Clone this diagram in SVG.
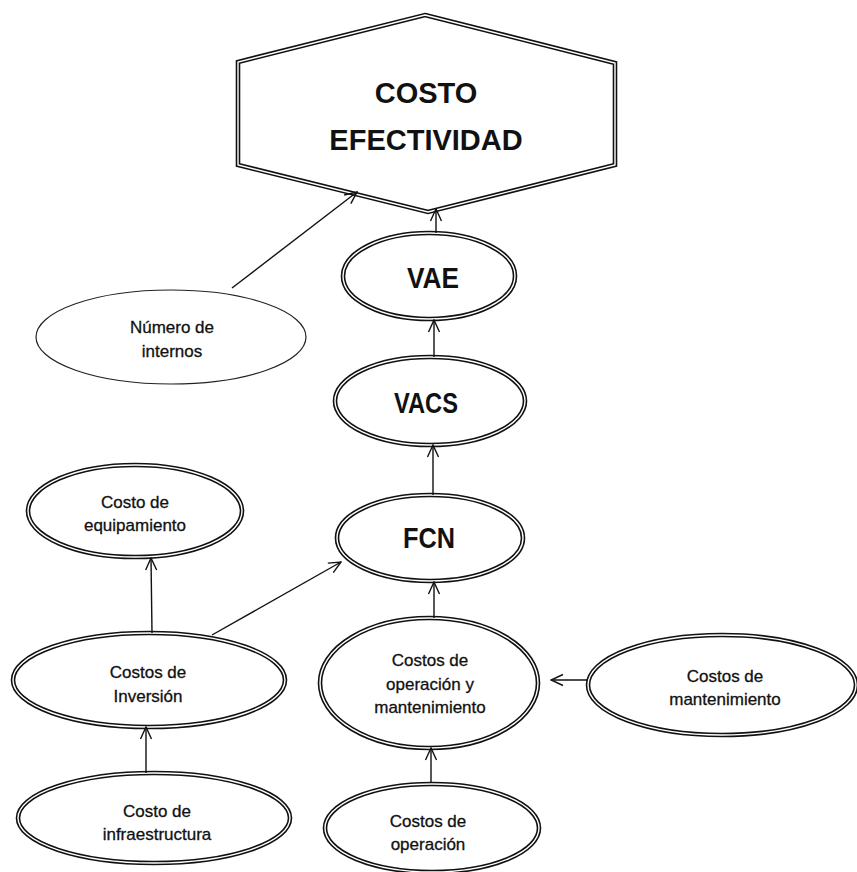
<svg xmlns="http://www.w3.org/2000/svg" width="857" height="872" viewBox="0 0 857 872">
  <defs>
    <style>
      .dbl-outer { fill: none; stroke: #111; stroke-width: 4.6; }
      .dbl-inner { fill: none; stroke: #fff; stroke-width: 1.4; }
      .thin { fill: #fff; stroke: #222; stroke-width: 1.2; }
      .lbl { font-family: "Liberation Sans", Arial, sans-serif; font-size: 17px; fill: #111; stroke: #111; stroke-width: 0.3; text-anchor: middle; }
      .big { font-family: "Liberation Sans", Arial, sans-serif; font-weight: bold; font-size: 29px; fill: #111; text-anchor: middle; }
      .edge { fill: none; stroke: #111; stroke-width: 1.4; marker-end: url(#open); }
    </style>
    <marker id="open" viewBox="0 0 14 14" refX="13" refY="7" markerWidth="14" markerHeight="14" markerUnits="userSpaceOnUse" orient="auto">
      <path d="M1,1.5 L13,7 L1,12.5" fill="none" stroke="#111" stroke-width="1.4"/>
    </marker>
  </defs>
  <rect width="857" height="872" fill="#fff"/>

  <!-- hexagon: cost-effectiveness -->
  <g id="costo-efectividad">
    <polygon class="dbl-outer" points="425,15 615,63 615,165 428,212 238,165 238,62"/>
    <polygon class="dbl-inner" points="425,15 615,63 615,165 428,212 238,165 238,62"/>
    <text class="big" x="426" y="103">COSTO</text>
    <text class="big" x="426" y="150">EFECTIVIDAD</text>
  </g>

  <g id="vae">
    <ellipse class="dbl-outer" cx="429" cy="276" rx="86" ry="43"/>
    <ellipse class="dbl-inner" cx="429" cy="276" rx="86" ry="43"/>
    <text class="big" x="433" y="288" font-size="28" textLength="52" lengthAdjust="spacingAndGlyphs">VAE</text>
  </g>

  <g id="vacs">
    <ellipse class="dbl-outer" cx="430" cy="401" rx="95" ry="44"/>
    <ellipse class="dbl-inner" cx="430" cy="401" rx="95" ry="44"/>
    <text class="big" x="426" y="413" font-size="28" textLength="64" lengthAdjust="spacingAndGlyphs">VACS</text>
  </g>

  <g id="fcn">
    <ellipse class="dbl-outer" cx="430" cy="538" rx="93" ry="43"/>
    <ellipse class="dbl-inner" cx="430" cy="538" rx="93" ry="43"/>
    <text class="big" x="429" y="548" font-size="28" textLength="52" lengthAdjust="spacingAndGlyphs">FCN</text>
  </g>

  <g id="numero-internos">
    <ellipse class="thin" cx="171" cy="337" rx="135" ry="47"/>
    <text class="lbl" x="172" y="333">Número de</text>
    <text class="lbl" x="172" y="357">internos</text>
  </g>

  <g id="costo-equipamiento">
    <ellipse class="dbl-outer" cx="135" cy="511" rx="107" ry="46"/>
    <ellipse class="dbl-inner" cx="135" cy="511" rx="107" ry="46"/>
    <text class="lbl" x="135" y="508">Costo de</text>
    <text class="lbl" x="135" y="531">equipamiento</text>
  </g>

  <g id="costos-inversion">
    <ellipse class="dbl-outer" cx="149" cy="680" rx="136" ry="47"/>
    <ellipse class="dbl-inner" cx="149" cy="680" rx="136" ry="47"/>
    <text class="lbl" x="148" y="678">Costos de</text>
    <text class="lbl" x="148" y="702">Inversión</text>
  </g>

  <g id="costo-infraestructura">
    <ellipse class="dbl-outer" cx="154" cy="818" rx="136" ry="45"/>
    <ellipse class="dbl-inner" cx="154" cy="818" rx="136" ry="45"/>
    <text class="lbl" x="157" y="817">Costo de</text>
    <text class="lbl" x="157" y="840">infraestructura</text>
  </g>

  <g id="costos-operacion-mantenimiento">
    <ellipse class="dbl-outer" cx="429" cy="683" rx="109" ry="65"/>
    <ellipse class="dbl-inner" cx="429" cy="683" rx="109" ry="65"/>
    <text class="lbl" x="430" y="666">Costos de</text>
    <text class="lbl" x="430" y="690">operación y</text>
    <text class="lbl" x="430" y="713">mantenimiento</text>
  </g>

  <g id="costos-mantenimiento">
    <ellipse class="dbl-outer" cx="722" cy="685" rx="134" ry="50"/>
    <ellipse class="dbl-inner" cx="722" cy="685" rx="134" ry="50"/>
    <text class="lbl" x="725" y="682">Costos de</text>
    <text class="lbl" x="725" y="705">mantenimiento</text>
  </g>

  <g id="costos-operacion">
    <ellipse class="dbl-outer" cx="432" cy="828" rx="107" ry="44"/>
    <ellipse class="dbl-inner" cx="432" cy="828" rx="107" ry="44"/>
    <text class="lbl" x="428" y="827">Costos de</text>
    <text class="lbl" x="428" y="850">operación</text>
  </g>

  <!-- connectors -->
  <g id="connectors">
    <line class="edge" x1="232" y1="288" x2="357" y2="192"/>
    <line class="edge" x1="436" y1="233" x2="436" y2="209"/>
    <line class="edge" x1="434" y1="357" x2="434" y2="320"/>
    <line class="edge" x1="433" y1="495" x2="433" y2="445"/>
    <line class="edge" x1="434" y1="618" x2="434" y2="582"/>
    <line class="edge" x1="212" y1="635" x2="341" y2="562"/>
    <line class="edge" x1="152" y1="633" x2="151" y2="558"/>
    <line class="edge" x1="146" y1="773" x2="146" y2="727"/>
    <line class="edge" x1="431" y1="783" x2="431" y2="748"/>
    <line class="edge" x1="588" y1="680" x2="551" y2="680"/>
  </g>
</svg>
